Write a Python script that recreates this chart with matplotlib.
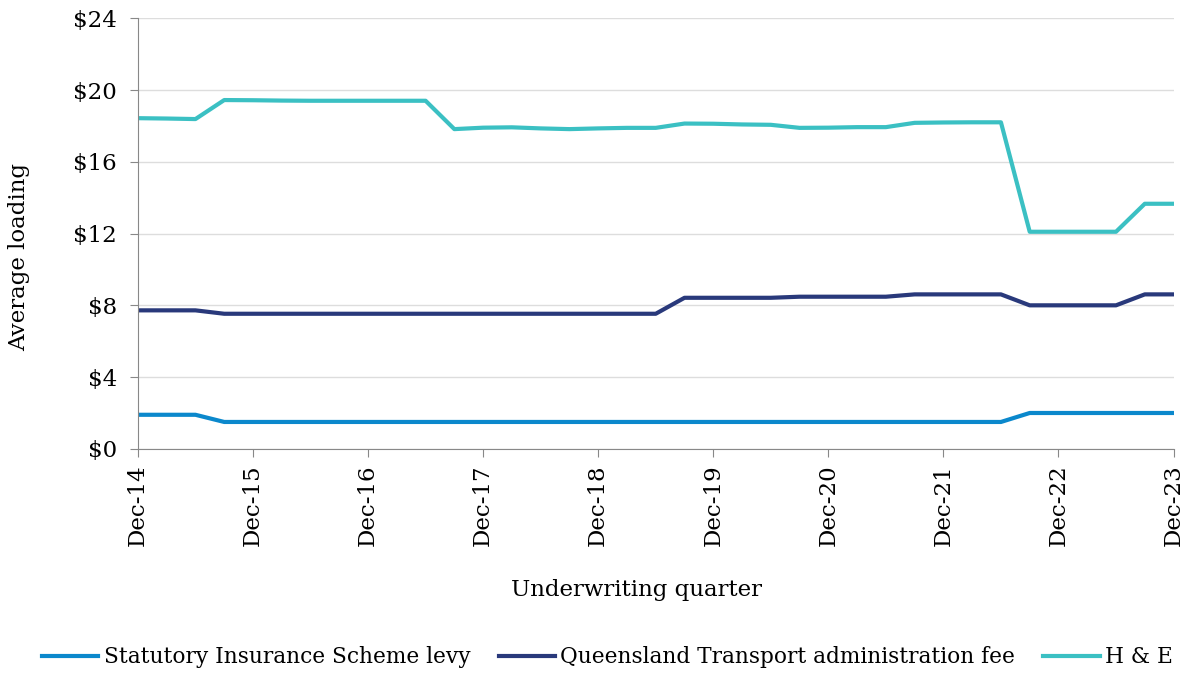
import matplotlib
matplotlib.use("Agg")
import matplotlib.pyplot as plt
import numpy as np

plt.rcParams["font.family"] = ["DejaVu Serif"]

# quarterly, Dec-14 .. Dec-23
quarters = np.arange(37)
year_labels = ["Dec-14", "Dec-15", "Dec-16", "Dec-17", "Dec-18",
               "Dec-19", "Dec-20", "Dec-21", "Dec-22", "Dec-23"]

sis_levy = [1.9, 1.9, 1.9] + [1.5] * 28 + [2.0] * 6

qt_fee = ([7.72] * 3 + [7.53] * 16 + [8.42] * 4 + [8.48] * 4
          + [8.61] * 4 + [8.0] * 4 + [8.61] * 2)

h_and_e = [18.43, 18.41, 18.38,
           19.44, 19.43, 19.41, 19.40, 19.40, 19.40, 19.40, 19.40,
           17.82, 17.90, 17.92, 17.86, 17.82, 17.86, 17.89, 17.89,
           18.13, 18.12, 18.08, 18.06, 17.89, 17.90, 17.93, 17.93,
           18.17, 18.19, 18.20, 18.20,
           12.10, 12.10, 12.10, 12.10,
           13.66, 13.66]

fig = plt.figure(figsize=(11.89, 6.75), dpi=100)
ax = fig.add_axes([0.116, 0.335, 0.871, 0.638])

ax.plot(quarters, sis_levy, color="#0b88cc", lw=3, label="Statutory Insurance Scheme levy")
ax.plot(quarters, qt_fee, color="#29397b", lw=3, label="Queensland Transport administration fee")
ax.plot(quarters, h_and_e, color="#3bc0c3", lw=3, label="H & E")

ax.set_xlim(0, 36)
ax.set_ylim(0, 24)
ax.set_yticks(np.arange(0, 25, 4))
ax.set_yticklabels([f"${v}" for v in range(0, 25, 4)])
ax.set_xticks(quarters[::4])
ax.set_xticklabels(year_labels, rotation=90)
ax.tick_params(labelsize=16.5, color="#888888", length=6)
ax.tick_params(axis="y", pad=9)
ax.tick_params(axis="x", pad=5)
ax.yaxis.grid(True, color="#dddddd", lw=1)
ax.set_axisbelow(True)

for side in ["top", "right"]:
    ax.spines[side].set_visible(False)
for side in ["left", "bottom"]:
    ax.spines[side].set_color("#888888")

ax.set_xlabel("Underwriting quarter", fontsize=16.5)
ax.set_ylabel("Average loading", fontsize=16.5)
ax.xaxis.set_label_coords(0.481, -0.302)
ax.yaxis.set_label_coords(-0.104, 0.445)

fig.legend(loc="center", bbox_to_anchor=(0.511, 0.026), ncol=3, frameon=False,
           fontsize=15.6, handlelength=2.6, columnspacing=1.3, handletextpad=0.25)

fig.savefig("out.png", dpi=100)
